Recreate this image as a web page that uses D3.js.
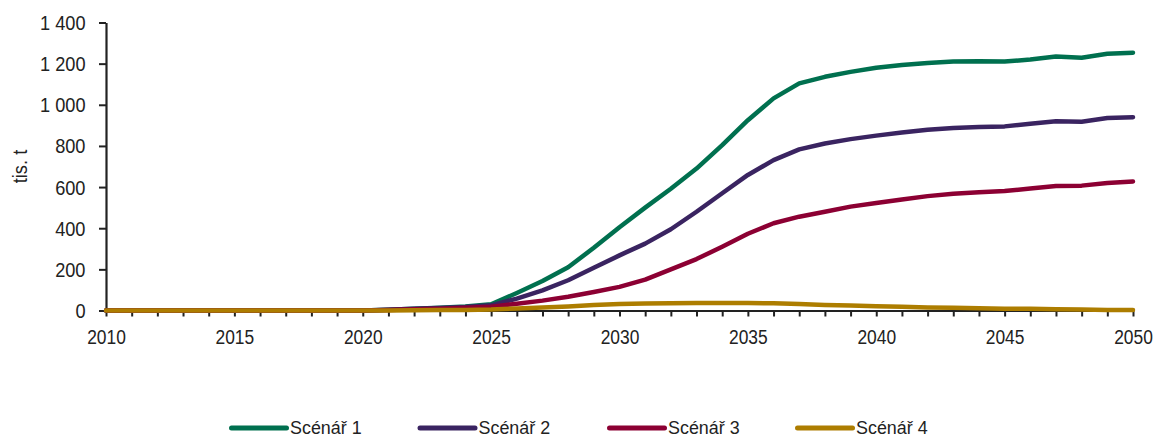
<!DOCTYPE html>
<html>
<head>
<meta charset="utf-8">
<script src="https://cdn.jsdelivr.net/npm/d3@7"></script>
<style>
  html, body { margin: 0; padding: 0; background: #fff; }
  svg { display: block; font-family: "Liberation Sans", Arial, sans-serif; }
</style>
</head>
<body>
<svg id="chart" width="1157" height="437"></svg>
<script>
const years = d3.range(2010, 2051);
const seriesNames = ["Scénář 1", "Scénář 2", "Scénář 3", "Scénář 4"];
const colors = ["#00704f", "#3a2461", "#8c0033", "#ad7d00"];

const scenario1 = [0,0,0,0,0,0,0,0,0,0,0, 4,8,13,20,30,85,143,210,305,405, 500,592,690,804,925,1031,1104,1136,1160,1180, 1193,1203,1210,1212,1210,1220,1235,1229,1248,1253];
const scenario2 = [0,0,0,0,0,0,0,0,0,0,0, 4,8,12,17,25,58,98,147,208,268, 325,395,480,570,659,731,783,812,833,850, 865,879,887,892,895,908,920,918,936,940];
const scenario3 = [0,0,0,0,0,0,0,0,0,0,0, 3,6,9,13,18,33,48,67,90,115, 150,200,250,310,373,424,456,480,505,523, 540,556,568,575,581,593,605,607,620,627];
const scenario4 = [0,0,0,0,0,0,0,0,0,0,0, 0,1,2,3,5,10,15,20,27,32, 34,35,36,36,36,35,31,27,24,21, 18,15,13,11,9,8,6,5,3,2];

const yTicks = [0, 200, 400, 600, 800, 1000, 1200, 1400];
const xTickLabels = [2010, 2015, 2020, 2025, 2030, 2035, 2040, 2045, 2050];
const yLabel = "tis. t";

const allSeries = [scenario1, scenario2, scenario3, scenario4];

const svg = d3.select("#chart");
const x = d3.scaleLinear().domain([2010, 2050]).range([106, 1133]);
const y = d3.scaleLinear().domain([0, 1400]).range([310.5, 22.5]);

// Y axis
const yAxis = d3.axisLeft(y).tickValues(yTicks).tickSize(7).tickSizeOuter(0)
  .tickFormat(d => d3.format(",")(d).replace(/,/g, " "));
const gy = svg.append("g").attr("transform", `translate(${x(2010)},0)`).call(yAxis);
gy.select(".domain").attr("stroke", "#222").attr("stroke-width", 2.2);
gy.selectAll(".tick line").attr("stroke", "#222").attr("stroke-width", 2);
gy.selectAll(".tick text")
  .attr("font-size", 18.2).attr("fill", "#222")
  .attr("x", 0).attr("dy", null).attr("y", 0)
  .attr("text-anchor", "end")
  .attr("transform", "translate(-20.5,7) scale(1,1.1)");

// X axis
const xAxis = d3.axisBottom(x).tickValues(years).tickSize(6).tickSizeOuter(0)
  .tickFormat(d => xTickLabels.includes(d) ? String(d) : "");
const gx = svg.append("g").attr("transform", `translate(0,${y(0)})`).call(xAxis);
gx.select(".domain").attr("stroke", "#222").attr("stroke-width", 2.2);
gx.selectAll(".tick line").attr("stroke", "#222").attr("stroke-width", 2);
gx.selectAll(".tick text")
  .attr("font-size", 17.4).attr("fill", "#222")
  .attr("y", 0).attr("dy", null)
  .attr("transform", "translate(0,33.5) scale(1,1.14)");

// Y label
svg.append("text")
  .attr("transform", `translate(27,${(y(0) + y(1400)) / 2}) rotate(-90) scale(1,1.1)`)
  .attr("text-anchor", "middle")
  .attr("font-size", 18.3)
  .attr("fill", "#222")
  .text(yLabel);

// Lines
const line = d3.line().x((d, i) => x(years[i])).y(d => y(d));
allSeries.forEach((s, i) => {
  svg.append("path")
    .datum(s)
    .attr("fill", "none")
    .attr("stroke", colors[i])
    .attr("stroke-width", 4.5)
    .attr("stroke-linejoin", "round")
    .attr("stroke-linecap", "round")
    .attr("d", line);
});

// Legend
const legendX = [229, 417.5, 607, 795];
const legendY = 428;
seriesNames.forEach((name, i) => {
  const g = svg.append("g").attr("transform", `translate(${legendX[i]},${legendY})`);
  g.append("line").attr("x1", 2.5).attr("x2", 57.5).attr("y1", 0).attr("y2", 0)
    .attr("stroke", colors[i]).attr("stroke-width", 5).attr("stroke-linecap", "round");
  g.append("text").attr("transform", "translate(61,6) scale(1,1.06)")
    .attr("font-size", 17.9).attr("fill", "#222").text(name);
});
</script>
</body>
</html>
